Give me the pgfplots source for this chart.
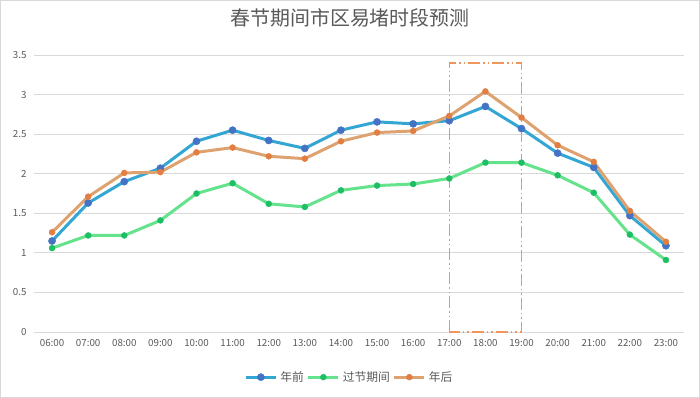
\documentclass[border=0pt]{standalone}
\usepackage{pgfplots}
\pgfplotsset{compat=1.18}
\usepackage{fontspec}
\setmainfont{Noto Sans CJK SC}
\definecolor{bline}{RGB}{52,166,212}
\definecolor{bmark}{RGB}{68,114,196}
\definecolor{gline}{RGB}{100,226,140}
\definecolor{gmark}{RGB}{30,190,100}
\definecolor{oline}{RGB}{222,162,112}
\definecolor{omark}{RGB}{226,126,66}
\definecolor{boxc}{RGB}{240,150,90}
\definecolor{txt}{RGB}{89,89,89}
\definecolor{gridc}{RGB}{217,217,217}
\begin{document}
\begin{tikzpicture}[x=1bp,y=1bp]
\useasboundingbox (-34bp,-66bp) rectangle (666bp,332bp);
\draw[gridc,line width=0.8bp] (-33.6bp,-65.6bp) rectangle (665.6bp,331.6bp);
\begin{axis}[
  at={(0,0)}, anchor=south west,
  scale only axis, width=650bp, height=277bp,
  xmin=-0.5, xmax=17.5, ymin=0, ymax=3.5,
  xtick={0,...,17},
  xticklabels={06:00,07:00,08:00,09:00,10:00,11:00,12:00,13:00,14:00,15:00,16:00,17:00,18:00,19:00,20:00,21:00,22:00,23:00},
  ytick={0,0.5,...,3.5},
  yticklabels={0,0.5,1,1.5,2,2.5,3,3.5},
  /pgf/number format/assume math mode=true,
  axis line style={draw=none},
  major tick length=0pt,
  ymajorgrids, grid style={gridc,line width=0.8bp},
  tick label style={font=\fontsize{9.8}{11}\selectfont, text=txt},
  xticklabel style={yshift=-4bp},
  yticklabel style={xshift=-4bp},
  clip=false,
  legend style={at={(0.486,-0.163)}, anchor=center, draw=none, fill=none,
    font=\fontsize{11.8}{13}\selectfont, text=txt, legend columns=3,
    /tikz/every even column/.append style={column sep=0bp},
    /tikz/every odd column/.append style={column sep=0bp},
    nodes={inner xsep=3bp}},
  legend image code/.code={
    \draw[#1,mark=none] (0bp,0bp) -- (30bp,0bp);
    \draw[#1,only marks] plot coordinates {(15bp,0bp)};
  },
]
\addplot[bline, line width=3bp, mark=*, mark size=3.6bp, mark options={solid,fill=bmark,draw=bmark,line width=0.4bp}] coordinates {
(0,1.15)(1,1.63)(2,1.90)(3,2.07)(4,2.41)(5,2.55)(6,2.42)(7,2.32)(8,2.55)
(9,2.655)(10,2.63)(11,2.67)(12,2.85)(13,2.57)(14,2.26)(15,2.08)(16,1.47)(17,1.09)};
\addlegendentry{年前}
\addplot[gline, line width=3bp, mark=*, mark size=3bp, mark options={solid,fill=gmark,draw=gmark,line width=0.4bp}] coordinates {
(0,1.06)(1,1.22)(2,1.22)(3,1.41)(4,1.75)(5,1.88)(6,1.62)(7,1.58)(8,1.79)
(9,1.85)(10,1.87)(11,1.94)(12,2.14)(13,2.14)(14,1.98)(15,1.76)(16,1.23)(17,0.91)};
\addlegendentry{过节期间}
\addplot[oline, line width=3bp, mark=*, mark size=3bp, mark options={solid,fill=omark,draw=omark,line width=0.4bp}] coordinates {
(0,1.26)(1,1.71)(2,2.01)(3,2.02)(4,2.27)(5,2.33)(6,2.22)(7,2.19)(8,2.41)
(9,2.52)(10,2.54)(11,2.73)(12,3.04)(13,2.71)(14,2.36)(15,2.15)(16,1.53)(17,1.14)};
\addlegendentry{年后}
\draw[boxc, line width=1.4bp, dash pattern=on 12bp off 3bp on 1.5bp off 3bp on 1.5bp off 3bp]
  (axis cs:11,0) rectangle (axis cs:13,3.4);
\end{axis}
\node[text=txt, font=\fontsize{20}{23}\selectfont] at (316bp,314bp) {春节期间市区易堵时段预测};
\end{tikzpicture}
\end{document}
